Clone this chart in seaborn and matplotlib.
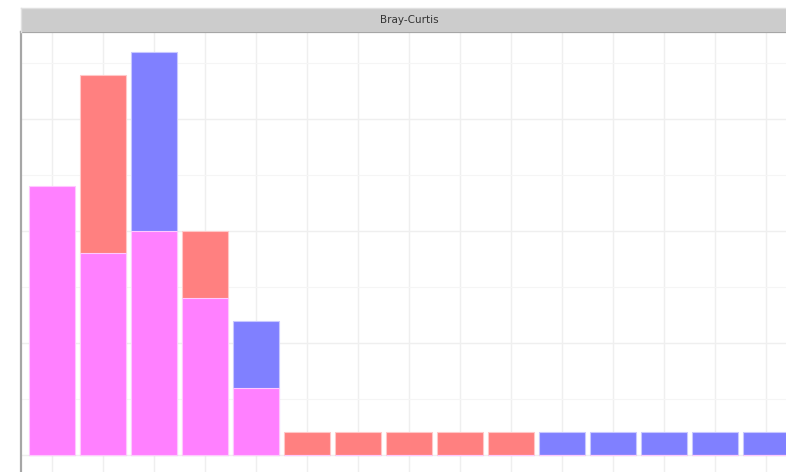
import numpy as np
import pandas as pd
import matplotlib
matplotlib.use("Agg")
import matplotlib.pyplot as plt
import seaborn as sns

# counts per category, stacked: magenta at the bottom, red / blue on top
categories = [str(i) for i in range(1, 16)]
magenta_counts = [12, 9, 10, 7, 3, 0, 0, 0, 0, 0, 0, 0, 0, 0, 0]
red_counts = [0, 8, 0, 3, 0, 1, 1, 1, 1, 1, 0, 0, 0, 0, 0]
blue_counts = [0, 0, 8, 0, 3, 0, 0, 0, 0, 0, 1, 1, 1, 1, 1]
facet_title = "Bray-Curtis"

colors = {"magenta": "#FF80FF", "red": "#FF8080", "blue": "#8080FF"}
edges = {"magenta": "#FFC8FF", "red": "#FFC8C8", "blue": "#C8C8FF"}

df = pd.DataFrame({
    "category": categories,
    "magenta": magenta_counts,
    "red": red_counts,
    "blue": blue_counts,
})
# cumulative tops of each segment (0 where the segment is absent)
df["blue_top"] = np.where(df["blue"] > 0, df["magenta"] + df["red"] + df["blue"], 0)
df["red_top"] = np.where(df["red"] > 0, df["magenta"] + df["red"], 0)
df["magenta_top"] = df["magenta"]

sns.set_theme(style="white")
W, H = 786, 472
fig = plt.figure(figsize=(W / 100, H / 100), dpi=100)

# panel (extends a little past the right / bottom edge like the reference crop)
left, right, top, bottom = 21, 797, 32, 475
ax = fig.add_axes([left / W, (H - bottom) / H, (right - left) / W, (bottom - top) / H])
ax.set_facecolor("white")

for col, key in [("blue_top", "blue"), ("red_top", "red"), ("magenta_top", "magenta")]:
    sns.barplot(data=df, x="category", y=col, color=colors[key], width=0.9,
                edgecolor=edges[key], linewidth=0.8, saturation=1, ax=ax, zorder=3)

ymax = (df["magenta"] + df["red"] + df["blue"]).max()
ax.set_xlim(-0.6, len(categories) - 0.4)
ax.set_ylim(-0.05 * ymax, 1.05 * ymax)
ax.set_yticks([0, 5, 10, 15])
ax.set_yticks([2.5, 7.5, 12.5, 17.5], minor=True)
ax.grid(True, which="major", color="#EFEFEF", linewidth=1.0, zorder=0)
ax.grid(True, which="minor", axis="y", color="#F5F5F5", linewidth=0.8, zorder=0)
ax.set_axisbelow(True)
ax.tick_params(which="both", length=0, labelleft=False, labelbottom=False)
ax.set_xlabel("")
ax.set_ylabel("")
for side, sp in ax.spines.items():
    sp.set_visible(True)
    sp.set_color("#A6A6A6")
    sp.set_linewidth(1.6)

# facet strip
strip = fig.add_axes([left / W, (H - top) / H, (right - left) / W, 24 / H])
strip.set_facecolor("#CCCCCC")
strip.set_xticks([])
strip.set_yticks([])
for side, sp in strip.spines.items():
    sp.set_visible(side != "bottom")
    sp.set_color("#E0E0E0")
    sp.set_linewidth(1.0)
strip.text(0.5, 0.5, facet_title, ha="center", va="center", fontsize=7.5,
           color="#333333", transform=strip.transAxes)

fig.savefig("out.png", dpi=100)
